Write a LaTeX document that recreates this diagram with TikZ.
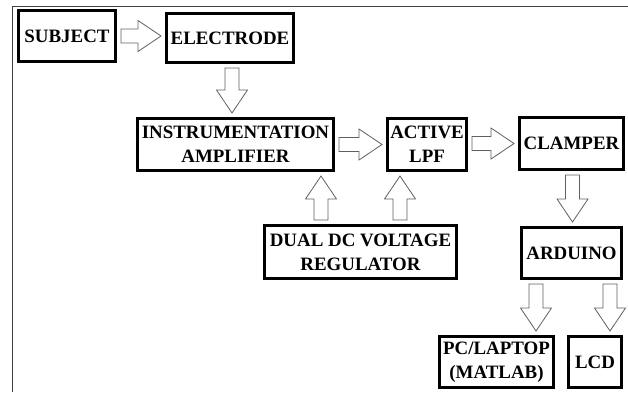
\documentclass[tikz,border=0pt]{standalone}
\usepackage{fontspec}
\setmainfont{Liberation Serif}
\usetikzlibrary{positioning,calc}

\begin{document}
\begin{tikzpicture}[
        x=1pt, y=-1pt,
        block/.style={rectangle, draw=black, line width=3pt, fill=white, text=black, inner sep=0pt, align=center,
            font=\bfseries\fontsize{18.9}{24}\selectfont},
        hollow/.style={draw=gray!75!black, line width=0.8pt, fill=white, to path={
            let \p1=(\tikztostart), \p2=(\tikztotarget),
                \n1={atan2(\y2-\y1,\x2-\x1)}, \n2={veclen(\x2-\x1,\y2-\y1)-4pt}, \n3={\n2-23pt} in
            ($(\p1)+(\n1:4pt)+(\n1+90:7pt)$) -- ($(\p1)+(\n1:\n3)+(\n1+90:7pt)$)
            -- ($(\p1)+(\n1:\n3)+(\n1+90:15.5pt)$) -- ($(\p1)+(\n1:\n2)$)
            -- ($(\p1)+(\n1:\n3)+(\n1-90:15.5pt)$) -- ($(\p1)+(\n1:\n3)+(\n1-90:7pt)$)
            -- ($(\p1)+(\n1:4pt)+(\n1-90:7pt)$) -- cycle \tikztonodes}}
    ]
    \useasboundingbox (0,0) rectangle (628,392);

    % Frame
    \draw[line width=1.5pt, black!75] (628,6.5) -- (12.5,6.5) -- (12.5,392);

    % Signal chain
    \node[block, minimum width=97, minimum height=51] (subj) at (67,36) {SUBJECT};
    \node[block, minimum width=127, minimum height=49] (elec) at (230,38) {ELECTRODE};
    \node[block, minimum width=196, minimum height=52] (instr) at (235.5,144.5) {INSTRUMENTATION\\AMPLIFIER};
    \node[block, minimum width=79, minimum height=52] (lpf) at (427,144.5) {ACTIVE\\LPF};
    \node[block, minimum width=104, minimum height=52] (clamp) at (571.5,143.5) {CLAMPER};
    \node[block, minimum width=192, minimum height=53] (dual) at (360.5,252) {DUAL DC VOLTAGE\\REGULATOR};
    \node[block, minimum width=100, minimum height=51] (ard) at (571.5,253) {ARDUINO};
    \node[block, minimum width=114, minimum height=51] (pc) at (496.5,362) {PC/LAPTOP\\(MATLAB)};
    \node[block, minimum width=53, minimum height=51] (lcd) at (595,362) {LCD};

    % Block arrows
    \draw[hollow] (subj.east) to (subj.east -| elec.west);
    \draw[hollow] ($(elec.south)+(2,0)$) to ($(elec.south |- instr.north)+(2,0)$);
    \draw[hollow] (instr.east) to (instr.east -| lpf.west);
    \draw[hollow] ($(lpf.east)+(0,-1)$) to ($(lpf.east -| clamp.west)+(0,-1)$);
    \draw[hollow] ($(dual.north)+(-39.5,0)$) to ($(dual.north |- instr.south)+(-39.5,0)$);
    \draw[hollow] ($(dual.north)+(39.5,0)$) to ($(dual.north |- lpf.south)+(39.5,0)$);
    \draw[hollow] ($(clamp.south)+(1,0)$) to ($(clamp.south |- ard.north)+(1,0)$);
    \draw[hollow] ($(ard.south)+(-35.5,0)$) to ($(ard.south |- pc.north)+(-35.5,0)$);
    \draw[hollow] ($(ard.south)+(38.5,0)$) to ($(ard.south |- lcd.north)+(38.5,0)$);
\end{tikzpicture}
\end{document}
